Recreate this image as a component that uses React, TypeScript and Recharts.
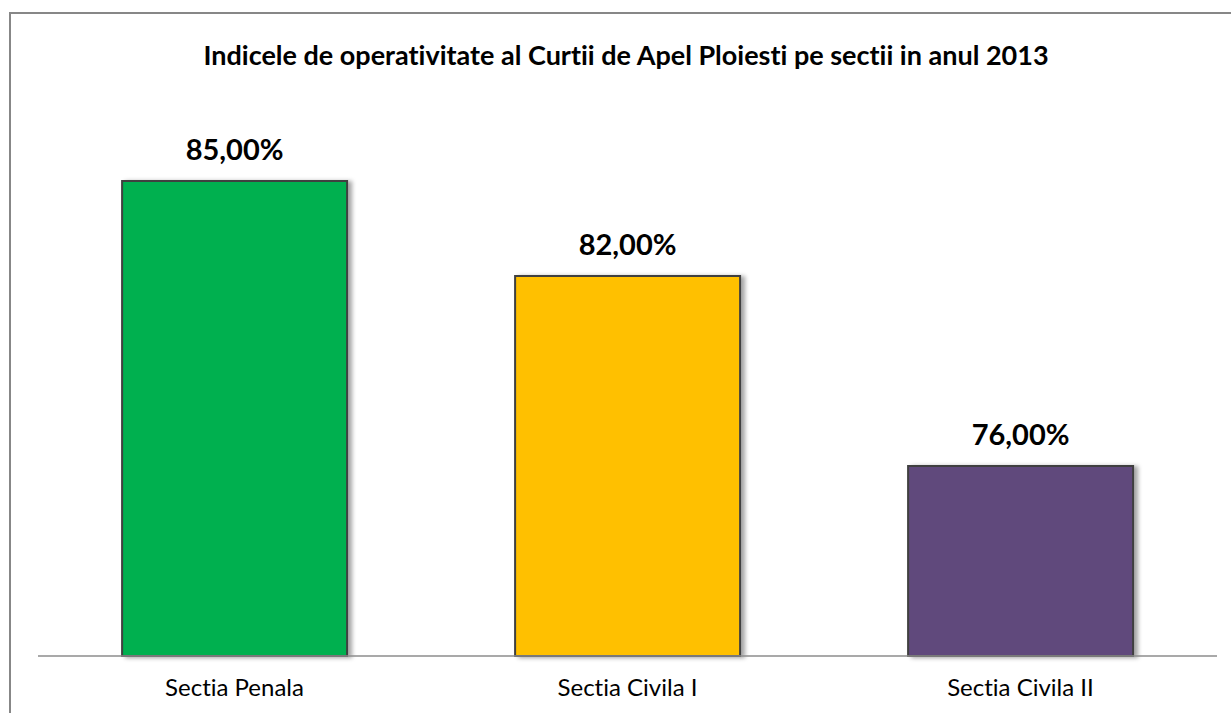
import React from 'react';
import { BarChart, Bar, XAxis, YAxis, LabelList, Cell } from 'recharts';

const categories = ['Sectia Penala', 'Sectia Civila I', 'Sectia Civila II'];
const values = [85, 82, 76];
const colors = ['#00B050', '#FFC000', '#604A7B'];
const title = 'Indicele de operativitate al Curtii de Apel Ploiesti pe sectii in anul 2013';

const data = categories.map((name, i) => ({ name, value: values[i] }));

const FONT = 'Lato, "Open Sans", sans-serif';

const formatPct = (v: any) => `${Number(v).toFixed(2).replace('.', ',')}%`;

export default function App() {
  return (
    <div
      style={{
        position: 'absolute',
        left: 0,
        top: 0,
        width: 1231,
        height: 713,
        background: '#fff',
        overflow: 'hidden',
        fontFamily: FONT,
        fontVariantLigatures: 'none'
      }}
    >
      <div
        style={{
          position: 'absolute',
          left: 9,
          top: 12,
          width: 1300,
          height: 800,
          borderTop: '2px solid #878787',
          borderLeft: '2px solid #878787'
        }}
      />
      <div
        style={{
          position: 'absolute',
          left: 0,
          top: 37,
          width: 1252,
          textAlign: 'center',
          fontSize: 27,
          lineHeight: '36px',
          fontWeight: 700,
          color: '#000',
          whiteSpace: 'nowrap'
        }}
      >
        {title}
      </div>
      <div style={{ position: 'absolute', left: 0, top: 0 }}>
        <BarChart
          width={1231}
          height={713}
          data={data}
          margin={{ top: 86, right: 14, left: 38, bottom: 0 }}
          barCategoryGap="21.4%"
        >
          <defs>
            <filter id="barShadow" x="-10%" y="-10%" width="130%" height="120%">
              <feDropShadow dx={4} dy={1} stdDeviation={2} floodColor="#000" floodOpacity={0.35} />
            </filter>
          </defs>
          <XAxis
            dataKey="name"
            height={57}
            tickLine={false}
            axisLine={{ stroke: '#8c8c8c', strokeWidth: 1.5 }}
            tick={{ fill: '#000', fontSize: 24, fontFamily: FONT, style: { fontVariantLigatures: 'none' } }}
            tickMargin={17}
          />
          <YAxis hide domain={[70, 88]} width={0} />
          <Bar
            dataKey="value"
            isAnimationActive={false}
            stroke="#404040"
            strokeWidth={2}
            filter="url(#barShadow)"
          >
            {data.map((d, i) => (
              <Cell key={d.name} fill={colors[i]} />
            ))}
            <LabelList
              dataKey="value"
              position="top"
              offset={21}
              formatter={formatPct}
              style={{ fill: '#000', fontSize: 29, fontWeight: 700, fontFamily: FONT }}
            />
          </Bar>
        </BarChart>
      </div>
    </div>
  );
}
